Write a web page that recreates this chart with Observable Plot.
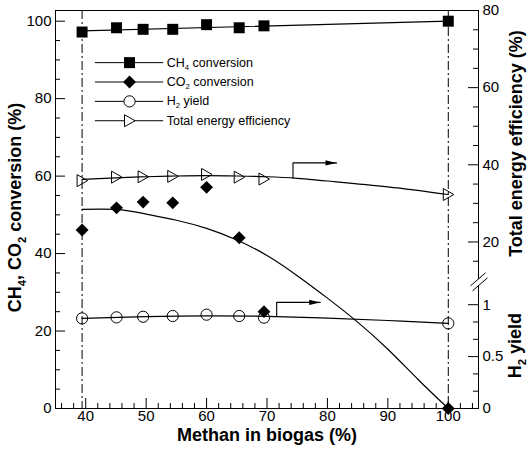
<!DOCTYPE html>
<html><head><meta charset="utf-8">
<script src="https://cdn.jsdelivr.net/npm/d3@7"></script>
<script src="https://cdn.jsdelivr.net/npm/@observablehq/plot@0.6"></script>
<style>
html,body{margin:0;padding:0;background:#fff;}
#chart{width:528px;height:452px;}
svg{display:block;}
</style></head><body><div id="chart"></div>
<script>
// ---- data ----
const methane = [39.4, 45.1, 49.5, 54.4, 60.0, 65.4, 69.5, 100];
const ch4Conversion = [97.2, 98.3, 97.9, 97.9, 99.1, 98.3, 98.8, 100.0];
const co2Conversion = [46.1, 51.8, 53.3, 53.1, 57.1, 44.1, 25.0, 0.0];
const h2Yield = [0.868, 0.878, 0.884, 0.891, 0.904, 0.891, 0.875, 0.820];
const energyEfficiency = [35.9, 36.8, 36.9, 37.0, 37.5, 36.8, 36.3, 32.3];

// trend curves as drawn in the reference
const ch4FitX = [39.4, 100];
const ch4FitY = [97.5, 100.0];
const co2FitX = [39.4, 45, 50, 55, 60, 65, 70, 75, 80, 85, 90, 95, 100];
const co2FitY = [51.4, 51.4, 50.2, 48.6, 46.5, 43.5, 39.5, 34.3, 28.5, 22.3, 15.3, 7.5, 0];
const h2FitX = [39.4, 50, 60, 70, 80, 90, 100];
const h2FitY = [0.868, 0.885, 0.893, 0.887, 0.871, 0.848, 0.820];
const effFitX = [39.4, 45, 50, 55, 60, 65, 70, 75, 80, 90, 100];
const effFitY = [36.2, 36.6, 36.9, 37.1, 37.2, 37.1, 36.9, 36.5, 35.8, 34.3, 32.3];

// arrows pointing to the right-hand axis
const effArrowX = [74.3, 74.3, 81.5];
const effArrowY = [36.5, 40.5, 40.5];
const h2ArrowX = [71.6, 71.6, 78.8];
const h2ArrowY = [0.886, 1.022, 1.022];

// axes
const xTicks = [40, 50, 60, 70, 80, 90, 100];
const leftTicks = [0, 20, 40, 60, 80, 100];
const effTicks = [20, 40, 60, 80];
const h2Ticks = [0, 0.5, 1];
const h2TickLabels = ["0", "0.5", "1"];
const xTitle = "Methan in biogas (%)";
const leftTitle = "CH_4, CO_2 conversion (%)";
const effTitle = "Total energy efficiency (%)";
const h2Title = "H_2 yield";
const legendLabels = ["CH_4 conversion", "CO_2 conversion", "H_2 yield", "Total energy efficiency"];

// ---- layout ----
const W = 528, H = 452, ML = 55, MR = 50, MT = 10, MB = 44;
const PW = W - ML - MR, PH = H - MT - MB;
const FONT = "'Liberation Sans', Arial, Helvetica, sans-serif";
const X_DOMAIN = [35, 105], Y_DOMAIN = [0, 102.76];
// secondary axes expressed in the left-axis units
const effToLeft = d3.scaleLinear().domain([20, 80]).range([43.0, 102.76]);
const h2ToLeft = d3.scaleLinear().domain([0, 1]).range([0, 26.8]);
const BREAK_LEFT = 32.7;

const xMinor = d3.range(36, 105, 2).filter(v => !xTicks.includes(v));
const leftMinor = d3.range(5, 101, 5).filter(v => !leftTicks.includes(v));
const effMinor = d3.range(15, 80, 5).filter(v => !effTicks.includes(v));
const h2Minor = [1/6, 2/6, 4/6, 5/6];

const pts = (xs, ys, f = d => d) => xs.map((x, i) => ({x, y: f(ys[i])}));

const triRight = {draw(ctx) { ctx.moveTo(5.5, 0); ctx.lineTo(-5, -6); ctx.lineTo(-5, 6); ctx.closePath(); }};
const arrowHead = {draw(ctx) { ctx.moveTo(0, 0); ctx.lineTo(-11, -2.6); ctx.lineTo(-11, 2.6); ctx.closePath(); }};

const series = [
  {ys: ch4Conversion, f: d => d, symbol: "square", r: 6.2, fill: "black", stroke: "none"},
  {ys: co2Conversion, f: d => d, symbol: "diamond2", r: 5.8, fill: "black", stroke: "none"},
  {ys: h2Yield, f: h2ToLeft, symbol: "circle", r: 5.6, fill: "none", stroke: "black"},
  {ys: energyEfficiency, f: effToLeft, symbol: triRight, r: 5, fill: "none", stroke: "black"}
];

// legend layout (left-axis / x-axis units)
const LEG_Y0 = 89.3, LEG_STEP = 5.0, LEG_X1 = 41.6, LEG_X2 = 52.9, LEG_XM = 47.25, LEG_XT = 53.4;
const legendRows = legendLabels.map((label, i) => ({label, i, y: LEG_Y0 - i * LEG_STEP}));

const lineOpts = {x: "x", y: "y", stroke: "black", strokeWidth: 1.2, curve: "natural"};
const tickTxt = {fontSize: 15, fill: "black"};
const titleTxt = {fontSize: 18, fontWeight: "bold", fill: "black", textAnchor: "middle"};

const marks = [
  Plot.ruleX([methane[0], methane[methane.length - 1]], {x: d => d, stroke: "black", strokeWidth: 1, strokeDasharray: "9,3,2,3"}),
  Plot.line(pts(ch4FitX, ch4FitY), {...lineOpts, curve: "linear"}),
  Plot.line(pts(co2FitX, co2FitY), lineOpts),
  Plot.line(pts(h2FitX, h2FitY, h2ToLeft), lineOpts),
  Plot.line(pts(effFitX, effFitY, effToLeft), lineOpts),
  Plot.line(pts(effArrowX, effArrowY, effToLeft), {x: "x", y: "y", stroke: "black", strokeWidth: 1.1}),
  Plot.line(pts(h2ArrowX, h2ArrowY, h2ToLeft), {x: "x", y: "y", stroke: "black", strokeWidth: 1.1}),
  Plot.dot([pts(effArrowX, effArrowY, effToLeft)[2]], {x: "x", y: "y", symbol: arrowHead, fill: "black", r: 3}),
  Plot.dot([pts(h2ArrowX, h2ArrowY, h2ToLeft)[2]], {x: "x", y: "y", symbol: arrowHead, fill: "black", r: 3}),
  ...series.map(s => Plot.dot(pts(methane, s.ys, s.f), {x: "x", y: "y", symbol: s.symbol, r: s.r, fill: s.fill, stroke: s.stroke, strokeWidth: 1})),
  // legend
  Plot.ruleY(legendRows, {y: "y", x1: LEG_X1, x2: LEG_X2, stroke: "black", strokeWidth: 1}),
  ...series.map((s, i) => Plot.dot([legendRows[i]], {x: LEG_XM, y: "y", symbol: s.symbol, r: s.r, fill: s.fill === "none" ? "white" : s.fill, stroke: s.stroke, strokeWidth: 1})),
  Plot.text(legendRows, {x: LEG_XT, y: "y", text: "label", textAnchor: "start", fontSize: 12.5, fill: "black"}),
  // ticks (inward)
  Plot.ruleX(xMinor, {x: d => d, insetTop: PH - 5, stroke: "black"}),
  Plot.ruleX(xTicks, {x: d => d, insetTop: PH - 10, stroke: "black"}),
  Plot.ruleY(leftMinor, {y: d => d, insetRight: PW - 5, stroke: "black"}),
  Plot.ruleY(leftTicks, {y: d => d, insetRight: PW - 10, stroke: "black"}),
  Plot.ruleY(effMinor.map(effToLeft), {y: d => d, insetLeft: PW - 5, stroke: "black"}),
  Plot.ruleY(effTicks.map(effToLeft), {y: d => d, insetLeft: PW - 10, stroke: "black"}),
  Plot.ruleY(h2Minor.map(h2ToLeft), {y: d => d, insetLeft: PW - 5, stroke: "black"}),
  Plot.ruleY(h2Ticks.map(h2ToLeft), {y: d => d, insetLeft: PW - 10, stroke: "black"}),
  // tick labels
  Plot.text(xTicks, {x: d => d, frameAnchor: "bottom", dy: 12, text: d => String(d), ...tickTxt}),
  Plot.text(leftTicks, {y: d => d, frameAnchor: "left", dx: -4, textAnchor: "end", text: d => String(d), ...tickTxt}),
  Plot.text(effTicks, {y: d => effToLeft(d), frameAnchor: "right", dx: 4, textAnchor: "start", text: d => String(d), ...tickTxt}),
  Plot.text(h2Ticks, {y: d => h2ToLeft(d), frameAnchor: "right", dx: 4, textAnchor: "start", text: d => h2TickLabels[h2Ticks.indexOf(d)], ...tickTxt}),
  // titles
  Plot.text([xTitle], {text: d => d, frameAnchor: "bottom", dy: 32, ...titleTxt}),
  Plot.text([leftTitle], {text: d => d, frameAnchor: "left", dx: -40, dy: -2, rotate: -90, ...titleTxt}),
  Plot.text([effTitle], {text: d => d, frameAnchor: "right", dx: 38, dy: -66, rotate: -90, ...titleTxt}),
  Plot.text([h2Title], {text: d => d, frameAnchor: "right", dx: 37, dy: 136, rotate: -90, ...titleTxt}),
  Plot.frame({stroke: "black", strokeWidth: 1})
];

const chart = Plot.plot({
  width: W, height: H,
  marginLeft: ML, marginRight: MR, marginTop: MT, marginBottom: MB,
  x: {domain: X_DOMAIN, axis: null},
  y: {domain: Y_DOMAIN, axis: null},
  style: {fontFamily: FONT, background: "white", color: "black", overflow: "visible"},
  marks
});

// subscripts: "_d" -> lowered small digit
d3.select(chart).selectAll("text").each(function () {
  const t = this.textContent;
  if (!t.includes("_")) return;
  const parts = t.split(/_(\d)/);
  this.textContent = "";
  const sel = d3.select(this);
  let shifted = false;
  parts.forEach((p, k) => {
    if (p === "") return;
    const ts = sel.append("tspan").text(p);
    if (k % 2 === 1) { ts.attr("font-size", "62%").attr("dy", "0.38em"); shifted = true; }
    else if (shifted) { ts.attr("dy", "-0.236em"); shifted = false; }
  });
});

// axis break on the right axis
{
  const ys = chart.scale("y");
  const yb = ys.apply(BREAK_LEFT) + 0.5;
  const x0 = W - MR + 0.5;
  const g = d3.select(chart).append("g").attr("stroke", "black").attr("stroke-width", 1);
  g.append("rect").attr("x", x0 - 2).attr("y", yb - 3).attr("width", 4).attr("height", 7).attr("fill", "white").attr("stroke", "none");
  g.append("line").attr("x1", x0 - 8).attr("y1", yb + 4).attr("x2", x0 + 7).attr("y2", yb - 9);
  g.append("line").attr("x1", x0 - 6).attr("y1", yb + 9).attr("x2", x0 + 9).attr("y2", yb - 4);
}

document.getElementById("chart").appendChild(chart);
</script>
</body></html>
